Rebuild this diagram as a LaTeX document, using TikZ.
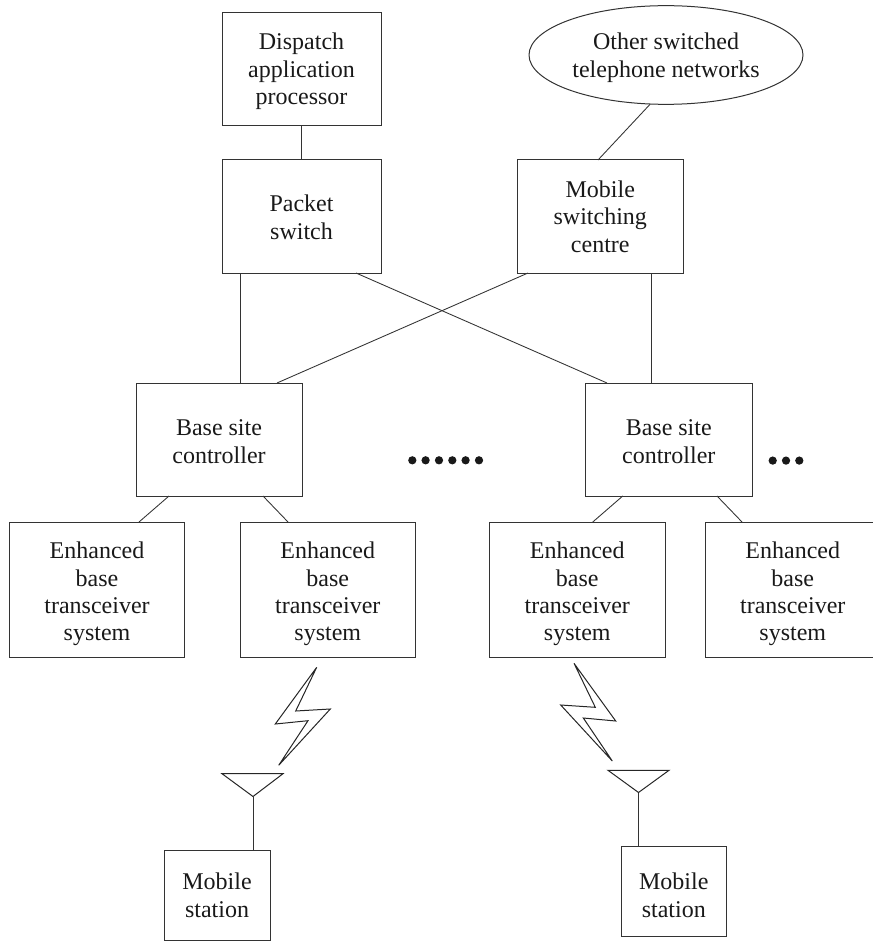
\documentclass[tikz,border=0pt]{standalone}
\usepackage{fontspec}
\setmainfont{Liberation Serif}
\usetikzlibrary{shapes.geometric}
\tikzset{
  px/.style={x=0.75pt,y=-0.75pt},
  lbl/.style={font=\fontsize{18pt}{20.6pt}\selectfont,align=center,text=black!90,inner sep=0pt},
  outline/.style={draw=black!80,line width=0.75pt,inner sep=0pt,outer sep=0pt},
  conn/.style={draw=black!80,line width=0.65pt},
  bolt/.style={draw=black!85,line width=0.75pt,line join=miter,miter limit=6},
  ant/.style={draw=black!85,line width=0.75pt,line join=miter},
  bead/.style={circle,fill=black!90,inner sep=0pt,minimum size=6.2pt}
}
% name, x1,y1,x2,y2, text, vertical text offset (all in reference pixels)
\newcommand{\boxnode}[7]{%
  \node[outline,rectangle,minimum width=#4*0.75pt-#2*0.75pt,minimum height=#5*0.75pt-#3*0.75pt,anchor=north west]
        (#1) at (#2,#3) {};
  \node[lbl] (#1t) at ([yshift=-#7*0.75pt]#1.center) {#6};}
% shift along x from an anchor, in reference pixels
\newcommand{\at}[2]{([xshift=#2*0.75pt]#1)}
\begin{document}
\begin{tikzpicture}[px]
\useasboundingbox (0,0) rectangle (873,941);
\clip (0,0) rectangle (873,941);
\boxnode{dap}{222}{13}{381}{126}{Dispatch\\application\\processor}{2}
\boxnode{ps}{222}{160}{381}{273}{Packet\\switch}{1}
\boxnode{msc}{517}{160}{683.5}{273}{Mobile\\switching\\centre}{0}
\node[outline,ellipse,minimum width=205.5pt,minimum height=74pt] (net) at (666,55) {};
\node[lbl] (nett) at ([yshift=-2.2pt]net.center) {Other switched\\telephone networks};
\boxnode{bsa}{136}{383}{302}{496}{Base site\\controller}{2}
\boxnode{bsb}{585.5}{383}{752}{496}{Base site\\controller}{2}
\boxnode{ea}{9.5}{522}{184.5}{657}{Enhanced\\base\\transceiver\\system}{4.5}
\boxnode{eb}{240}{522}{415.5}{657}{Enhanced\\base\\transceiver\\system}{4.5}
\boxnode{ec}{489.5}{522}{665}{657}{Enhanced\\base\\transceiver\\system}{4.5}
\boxnode{ed}{705}{522}{880.5}{657}{Enhanced\\base\\transceiver\\system}{4.5}
\boxnode{ma}{164}{850}{270}{940}{Mobile\\station}{0.5}
\boxnode{mb}{621}{846}{726.5}{936}{Mobile\\station}{4.5}
% connectors
\draw[conn] (dap.south) -- (ps.north);
\draw[conn] \at{net.south}{-16} -- \at{msc.north}{-2.25};
\draw[conn] \at{ps.south}{-61.5} -- \at{bsa.north}{21};
\draw[conn] \at{ps.south}{54.5} -- \at{bsb.north}{-61.75};
\draw[conn] \at{msc.south}{-72.25} -- \at{bsa.north}{58};
\draw[conn] \at{msc.south}{50.75} -- \at{bsb.north}{-17.75};
\draw[conn] \at{bsa.south}{-50} -- \at{ea.north}{42};
\draw[conn] \at{bsa.south}{44} -- \at{eb.north}{-39.75};
\draw[conn] \at{bsb.south}{-46} -- \at{ec.north}{15.5};
\draw[conn] \at{bsb.south}{48.25} -- \at{ed.north}{-50.75};
% lightning bolts
\draw[bolt] (316.7,667.3) -- (295.7,711) -- (330.3,709) -- (278.7,765.3) -- (308,720.7) -- (275.3,724) -- cycle;
\draw[bolt] (574,663.3) -- (595.3,707.3) -- (560.7,705) -- (612.3,761) -- (583.3,718) -- (615.7,721) -- cycle;
% antennas
\coordinate (tipa) at (253,796.5);
\coordinate (tipb) at (638.5,792.5);
\draw[ant] (222,773.7) -- (283,773.7) -- (tipa) -- cycle;
\draw[ant] (608,770.3) -- (669,770.3) -- (tipb) -- cycle;
\draw[conn] (tipa) -- (tipa |- ma.north);
\draw[conn] (tipb) -- (tipb |- mb.north);
% dots
\foreach \i/\x in {1/412.3,2/425.6,3/439,4/452.3,5/465.6,6/479}
  \node[bead] (da\i) at (\x,460.3) {};
\foreach \i/\x in {1/772.7,2/786,3/799.3}
  \node[bead] (db\i) at (\x,460.6) {};
\end{tikzpicture}
\end{document}
